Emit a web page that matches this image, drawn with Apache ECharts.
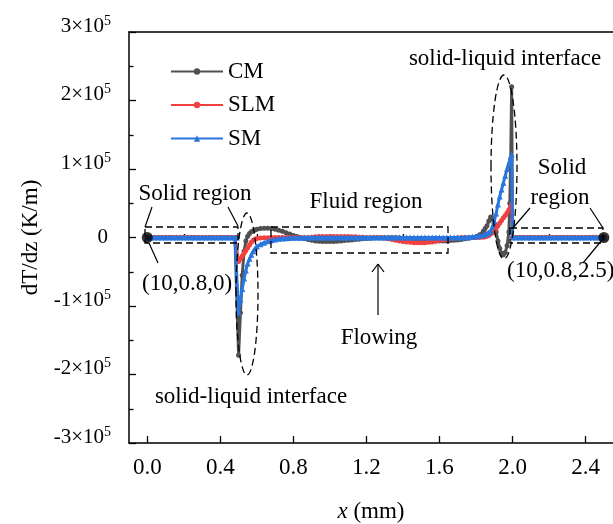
<!DOCTYPE html>
<html><head><meta charset="utf-8">
<script src="https://cdn.jsdelivr.net/npm/echarts@6/dist/echarts.min.js"></script>
<style>html,body{margin:0;padding:0;background:#fff}#c{width:613px;height:524px}</style>
</head><body><div id="c"></div>
<script>
const xValues = [
0,0.02,0.04,0.06,0.08,0.1,0.12,0.14,0.16,0.18,0.2,0.22,0.24,0.26,0.28,0.3,0.32,0.34,0.36,0.38,0.4,0.42,0.44,0.46,0.48,
0.49,0.5,0.51,0.52,0.53,0.54,0.55,0.56,0.57,0.58,0.59,0.6,
0.62,0.64,0.66,0.68,0.7,0.72,0.74,0.76,0.78,0.8,
0.82,0.84,0.86,0.88,0.9,0.92,0.94,0.96,0.98,1.0,
1.02,1.04,1.06,1.08,1.1,1.12,1.14,1.16,1.18,1.2,
1.22,1.24,1.26,1.28,1.3,1.32,1.34,1.36,1.38,1.4,
1.42,1.44,1.46,1.48,1.5,1.52,1.54,1.56,1.58,1.6,
1.62,1.64,1.66,1.68,1.7,1.72,1.74,1.76,1.78,1.8,
1.82,1.84,
1.85,1.86,1.87,1.88,1.89,1.9,1.91,1.92,1.93,1.94,1.95,1.96,1.97,1.98,1.985,1.99,1.995,2.0,
2.02,2.04,2.06,2.08,2.1,2.12,2.14,2.16,2.18,2.2,2.22,2.24,2.26,2.28,2.3,2.32,2.34,2.36,2.38,2.4,2.42,2.44,2.46,2.48,2.5
];
const cmValues = [
0,0,0,0,0,0,0,0,0,0,0,0,0,0,0,0,0,0,0,0,0,0,0,0,0,
0,-172000,-110000,-55000,-20000,-5000,2000,6000,8500,10000,11000,12000,
13000,13500,13500,13000,12000,10500,9000,7000,5000,3000,
1500,0,-1500,-3000,-4000,-5000,-5500,-6000,-6000,-6000,
-6000,-5500,-5000,-4500,-4000,-3500,-3000,-2500,-2000,-1500,
-1000,-500,0,0,0,0,0,0,-500,-1000,
-1500,-2000,-2500,-3000,-3500,-4000,-4500,-5000,-5000,-5000,
-5000,-5000,-4500,-4000,-3500,-3000,-2000,-1000,0,1000,
4000,9000,
13000,17000,24000,30000,28000,20000,8000,-5000,-16000,-23000,-25000,-22000,-12000,8000,50000,115000,220000,0,
0,0,0,0,0,0,0,0,0,0,0,0,0,0,0,0,0,0,0,0,0,0,0,0,0
];
const slmValues = [
0,0,0,0,0,0,0,0,0,0,0,0,0,0,0,0,0,0,0,0,0,0,0,0,0,
0,-35000,-31000,-27000,-23000,-19000,-15000,-11000,-7000,-4000,-2500,-1500,
-800,-400,-200,0,0,0,0,0,0,0,
0,0,0,0,500,1000,1500,1500,1500,1500,
1500,1500,1500,1500,1500,1000,1000,500,500,0,
0,0,0,-500,-1000,-2000,-3000,-4000,-5000,-6000,
-6500,-7000,-7500,-7500,-7500,-7500,-7000,-6500,-5500,-4500,
-3500,-2500,-1500,-1000,-500,0,0,0,0,0,
0,500,
1000,2000,3000,5000,7000,10000,13000,17000,21000,25000,29000,32000,36000,40000,42000,45000,48000,0,
0,0,0,0,0,0,0,0,0,0,0,0,0,0,0,0,0,0,0,0,0,0,0,0,0
];
const smValues = [
0,0,0,0,0,0,0,0,0,0,0,0,0,0,0,0,0,0,0,0,0,0,0,0,0,
0,-110000,-90000,-75000,-60000,-48000,-38000,-31000,-25000,-20000,-16000,-13000,
-10000,-7500,-5500,-4000,-3000,-2000,-1500,-1000,-800,-500,
-300,-200,0,0,0,0,0,0,0,0,
0,0,0,0,0,0,0,0,0,0,
0,0,0,0,0,0,0,0,0,0,
0,0,0,0,0,0,0,0,0,0,
0,0,0,0,0,0,300,500,1000,1500,
2500,3500,
4500,6000,7500,9000,16000,24000,35000,48000,60000,70000,80000,90000,100000,108000,112000,116000,121000,0,
0,0,0,0,0,0,0,0,0,0,0,0,0,0,0,0,0,0,0,0,0,0,0,0,0
];
const endPoints = [[0,0],[2.5,0]];
const seriesNames = ['CM','SLM','SM'];
const xTickValues = [0,0.4,0.8,1.2,1.6,2.0,2.4];
const xMinorTickValues = [0.2,0.6,1.0,1.4,1.8,2.2];
const yMantissas = [-3,-2,-1,0,1,2,3];

const FONT = "'Liberation Serif','Times New Roman',serif";
const FS = 23;
const axisLineStyle = {color:'#000', width:1.5};
const chart = echarts.init(document.getElementById('c'), null, {renderer:'canvas'});
const pairs = vals => xValues.map((x,i)=>[x, vals[i]]);

function yLabel(v){
  const m = Math.round(v/1e5);
  if (yMantissas.indexOf(m) < 0) return '';
  if (m === 0) return '{z|0}';
  return '{n|' + (m<0?'-':'') + Math.abs(m) + '×10}{s|5}';
}

const textStyle = {fontFamily:FONT, fontSize:FS, fill:'#000'};
function txt(x,y,t,align){ return {type:'text', x:x, y:y, style:Object.assign({text:t, align:align||'center', verticalAlign:'middle'}, textStyle), z:20}; }
function dashRect(x,y,w,h){ return {type:'rect', shape:{x:x,y:y,width:w,height:h}, style:{fill:null, stroke:'#000', lineWidth:1.3, lineDash:[7,4]}, z:20}; }
function dashEllipse(cx,cy,rx,ry){ return {type:'ellipse', shape:{cx:cx,cy:cy,rx:rx,ry:ry}, style:{fill:null, stroke:'#000', lineWidth:1.3, lineDash:[7,4]}, z:20}; }
function seg(x1,y1,x2,y2){ return {type:'line', shape:{x1:x1,y1:y1,x2:x2,y2:y2}, style:{stroke:'#000', lineWidth:1.2}, z:20}; }

const option = {
  animation:false,
  backgroundColor:'#fff',
  grid:{left:129, top:32, right:0, bottom:81, containLabel:false, outerBoundsMode:'none'},
  legend:{
    orient:'vertical', left:165, top:55, itemWidth:52, itemHeight:8, itemGap:10.5,
    data:seriesNames,
    textStyle:{fontFamily:FONT, fontSize:FS, color:'#000', lineHeight:22, padding:[0,0,0,0]}
  },
  xAxis:[
    {type:'value', min:-0.1, max:2.55, position:'bottom',
     axisLine:{show:true, onZero:false, lineStyle:axisLineStyle},
     axisTick:{show:true, inside:true, length:7, customValues:xTickValues, lineStyle:{color:'#000', width:1.3}},
     axisLabel:{show:true, customValues:xTickValues, formatter:v=>v.toFixed(1), fontFamily:FONT, fontSize:FS, color:'#000', margin:13},
     splitLine:{show:false},
     name:'{i|x} (mm)', nameLocation:'middle', nameGap:57,
     nameTextStyle:{fontFamily:FONT, fontSize:FS, color:'#000', rich:{i:{fontFamily:FONT, fontSize:FS, fontStyle:'italic', color:'#000'}}}
    },
    {type:'value', min:-0.1, max:2.55, position:'bottom',
     axisLine:{show:false},
     axisTick:{show:true, inside:true, length:3.5, customValues:xMinorTickValues, lineStyle:{color:'#000', width:1.3}},
     axisLabel:{show:false}, splitLine:{show:false}
    },
    {type:'value', min:-0.1, max:2.55, position:'top',
     axisLine:{show:true, onZero:false, lineStyle:axisLineStyle},
     axisTick:{show:false}, axisLabel:{show:false}, splitLine:{show:false}
    }
  ],
  yAxis:[{
    type:'value', min:-300000, max:300000, interval:100000,
    axisLine:{show:true, onZero:false, lineStyle:axisLineStyle},
    axisTick:{show:true, inside:true, length:7, lineStyle:{color:'#000', width:1.3}},
    minorTick:{show:true, splitNumber:2, length:4.5, lineStyle:{color:'#000', width:1.3}},
    splitLine:{show:false}, minorSplitLine:{show:false},
    axisLabel:{formatter:yLabel, margin:18, color:'#000',
      rich:{
        n:{fontFamily:FONT, fontSize:21, color:'#000', padding:[0,0,12,0]},
        s:{fontFamily:FONT, fontSize:14, color:'#000', padding:[0,0,22,0]},
        z:{fontFamily:FONT, fontSize:21, color:'#000', padding:[0,3,0,0]}
      }},
    name:'dT/dz (K/m)', nameLocation:'middle', nameGap:86, nameRotate:90,
    nameTextStyle:{fontFamily:FONT, fontSize:FS, color:'#000'}
  }],
  series:[
    {type:'line', name:'CM', data:pairs(cmValues), xAxisIndex:0, symbol:'circle', symbolSize:5, showSymbol:true, showAllSymbol:true,
     lineStyle:{color:'#505050', width:3}, itemStyle:{color:'#505050'}, z:2},
    {type:'line', name:'SLM', data:pairs(slmValues), xAxisIndex:0, symbol:'circle', symbolSize:5, showSymbol:true, showAllSymbol:true,
     lineStyle:{color:'#f04040', width:3}, itemStyle:{color:'#f04040'}, z:3},
    {type:'line', name:'SM', data:pairs(smValues), xAxisIndex:0, symbol:'triangle', symbolSize:6, showSymbol:true, showAllSymbol:true,
     lineStyle:{color:'#2a76de', width:3}, itemStyle:{color:'#2a76de'}, z:4},
    {type:'scatter', name:'ends', data:endPoints, xAxisIndex:0, symbol:'circle', symbolSize:11, itemStyle:{color:'#000'}, z:10}
  ],
  graphic:[
    dashRect(145,227,93,16),
    dashRect(271,227,177,26),
    dashRect(510,228,93,15),
    dashEllipse(247,294,11,81),
    dashEllipse(504,167,13,92),
    seg(145,227,152,207), seg(238,226,228,207),
    seg(149,243,158,263),
    seg(512,229,530,208), seg(603,228,590,208),
    seg(602,240,583,263),
    seg(378,315,378,264), seg(372,272,378,264), seg(384,272,378,264),
    txt(195,194,'Solid region'),
    txt(187,284,'(10,0.8,0)'),
    txt(366,202,'Fluid region'),
    txt(379,338,'Flowing'),
    txt(251,397,'solid-liquid interface'),
    txt(505,59,'solid-liquid interface'),
    txt(562,168,'Solid'),
    txt(560,198,'region'),
    txt(507,271,'(10,0.8,2.5)','left')
  ]
};
chart.setOption(option);
</script></body></html>
